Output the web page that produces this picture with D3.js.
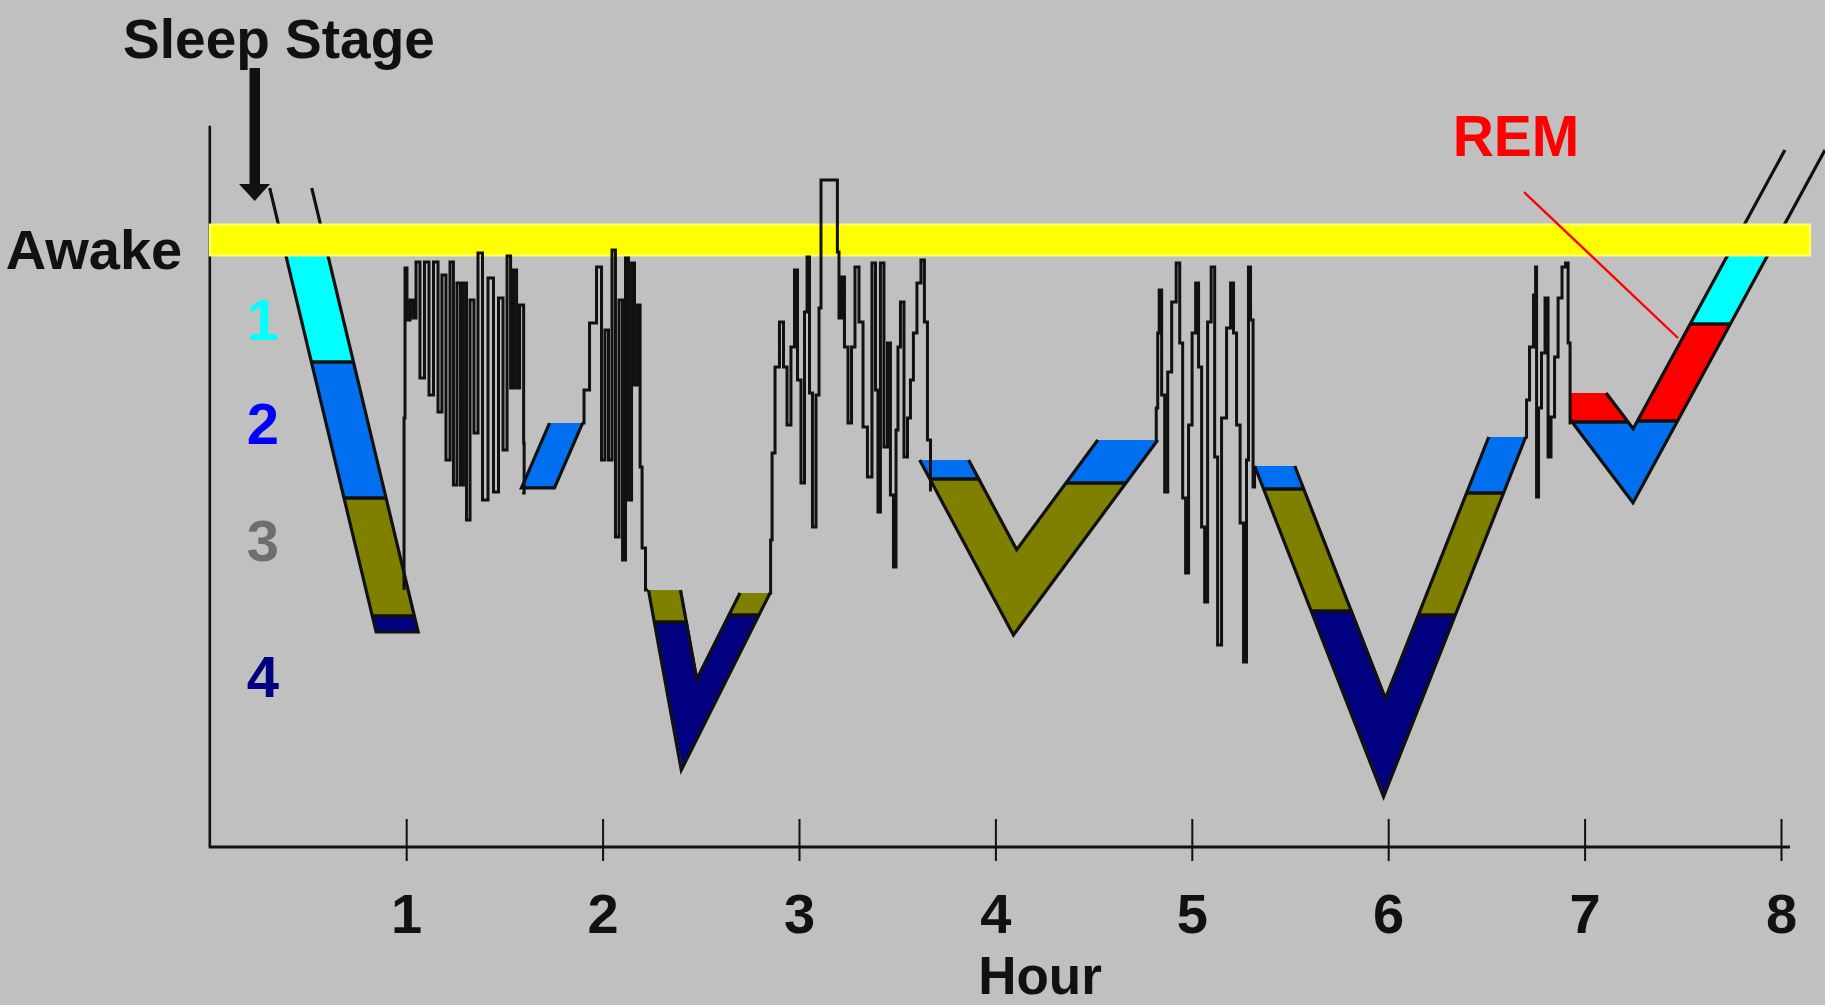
<!DOCTYPE html>
<html><head><meta charset="utf-8">
<script src="https://cdn.jsdelivr.net/npm/d3@7"></script>
<style>
html,body{margin:0;padding:0;background:#c0c0c0;}
svg{display:block;}
text{font-family:"Liberation Sans",Arial,Helvetica,sans-serif;font-weight:bold;}
</style></head><body>
<svg id="chart" width="1825" height="1005"></svg>
<script>
// ---------------- DATA ----------------
// x in hours after sleep onset, y in "sleep depth" units (0 = awake line)
const hourTicks = [1, 2, 3, 4, 5, 6, 7, 8];
const stageLabels = ['1', '2', '3', '4'];
const yTitle = 'Sleep Stage';
const xTitle = 'Hour';
const awakeLabel = 'Awake';
const remLabel = 'REM';

// single descending / ascending legs: centre line top & end, horizontal width (h), stage segments [stage, fromDepth, toDepth]
const legA = {top: [0.412, -0.514], end: [0.954, 3.875], w: 0.214,
  segs: [['S1', 0, 1.206], ['S2', 1.206, 2.550], ['S3', 2.550, 3.717], ['S4', 3.717, 3.875]]};
const legB = {top: [1.814, 1.809], end: [1.671, 2.451], w: 0.168,
  segs: [['S2', 1.809, 2.451]]};

// V-shaped cycles: left leg top, vertex, right leg top
const cycleC = {left: {top: [2.315, 3.460], w: 0.163, segs: [['S3', 3.460, 3.776], ['S4', 3.776, 9]]},
  vertex: [2.440, 4.790],
  right: {top: [2.776, 3.489], w: 0.153, segs: [['S3', 3.489, 3.707], ['S4', 3.707, 9]]}};
const cycleD = {left: {top: [3.739, 2.175], w: 0.249, segs: [['S2', 2.175, 2.362], ['S3', 2.362, 9]]},
  vertex: [4.100, 3.483],
  right: {top: [4.674, 1.977], w: 0.305, segs: [['S2', 1.977, 2.402], ['S3', 2.402, 9]]}};
const cycleE = {left: {top: [5.422, 2.234], w: 0.204, segs: [['S2', 2.234, 2.461], ['S3', 2.461, 3.667], ['S4', 3.667, 9]]},
  vertex: [5.981, 5.017],
  right: {top: [6.606, 1.947], w: 0.188, segs: [['S2', 1.947, 2.501], ['S3', 2.501, 3.707], ['S4', 3.707, 9]]}};
const cycleF = {left: {top: [6.967, 1.512], w: 0.285, segs: [['REM', 1.512, 1.799], ['S2', 1.799, 9]]},
  vertex: [7.247, 2.232], clipH: 6.930,
  right: {top: [8.122, -0.890], w: 0.204, segs: [['S1', 0, 0.830], ['REM', 0.830, 1.789], ['S2', 1.789, 9]]}};

// wake / arousal bursts [hour, depth]
const burst1 = [[0.989,3.460],[0.989,1.759],[0.999,0.277],[1.009,0.791],[1.030,0.593],[1.040,0.771],[1.060,0.217],[1.080,1.364],
  [1.106,0.217],[1.126,1.532],[1.152,0.217],[1.172,1.700],[1.192,0.346],[1.213,2.175],[1.233,0.217],[1.248,2.422],[1.269,0.425],
  [1.284,2.422],[1.299,0.425],[1.315,2.768],[1.335,0.593],[1.355,1.908],[1.376,0.128],[1.401,2.570],[1.432,0.376],[1.457,2.491],
  [1.483,0.573],[1.503,2.076],[1.524,0.158],[1.539,1.463],[1.554,0.297],[1.570,1.463],[1.585,0.642],[1.611,2.007],[1.590,2.501]];
const burst2 = [[1.895,1.809],[1.916,1.483],[1.951,0.820],[1.987,0.267],[2.002,2.175],[2.022,0.890],[2.038,2.175],[2.058,0.099],
  [2.073,2.936],[2.094,0.593],[2.109,3.163],[2.124,0.178],[2.140,2.570],[2.155,0.227],[2.170,1.433],[2.186,0.642],[2.196,2.244],
  [2.206,3.044],[2.231,3.460]];
const burst3 = [[2.853,3.489],[2.858,2.965],[2.868,2.105],[2.888,1.255],[2.913,0.811],[2.929,1.255],[2.949,1.829],[2.969,1.058],
  [2.985,0.297],[3.000,1.384],[3.020,2.402],[3.036,0.712],[3.046,0.168],[3.061,1.512],[3.076,2.837],[3.097,1.532],[3.107,0.672],
  [3.117,-0.593],[3.193,-0.593],[3.198,0.119],[3.209,0.771],[3.224,0.366],[3.239,1.058],[3.260,1.809],[3.275,1.058],[3.295,0.267],
  [3.316,0.811],[3.336,1.848],[3.361,2.343],[3.382,0.227],[3.397,1.483],[3.407,2.689],[3.422,0.227],[3.443,2.046],[3.458,1.018],
  [3.473,2.521],[3.489,3.232],[3.499,1.878],[3.509,1.058],[3.524,0.613],[3.545,2.145],[3.560,1.759],[3.575,1.384],[3.590,0.919],
  [3.611,0.425],[3.631,0.198],[3.646,0.811],[3.662,1.977],[3.677,2.471]];
const burst4 = [[4.814,1.977],[4.824,1.661],[4.829,0.919],[4.839,0.494],[4.854,1.532],[4.870,2.491],[4.885,1.305],[4.910,0.613],
  [4.931,0.227],[4.946,1.018],[4.961,2.550],[4.976,3.291],[4.991,1.829],[5.012,0.919],[5.027,0.425],[5.042,1.255],[5.058,2.837],
  [5.073,3.578],[5.088,0.811],[5.109,0.267],[5.124,2.145],[5.139,4.003],[5.164,1.759],[5.190,0.870],[5.205,0.425],[5.220,0.919],
  [5.236,1.829],[5.256,2.797],[5.271,4.171],[5.286,2.175],[5.291,0.267],[5.307,0.791],[5.317,2.441],[5.322,2.273]];
const burst5 = [[6.702,1.947],[6.707,1.581],[6.732,1.058],[6.748,0.544],[6.753,0.267],[6.758,2.540],[6.773,1.661],[6.788,1.117],
  [6.809,0.573],[6.819,2.145],[6.839,1.750],[6.855,1.156],[6.875,0.573],[6.895,0.267],[6.911,0.227],[6.921,1.018],[6.931,1.809]];

// ---------------- STYLE / LAYOUT ----------------
const COLORS = {S1: '#00ffff', S2: '#0070f0', S3: '#808000', S4: '#000080', REM: '#ff0000'};
const LABEL_COLORS = ['#00ffff', '#0000ff', '#6e6e6e', '#000080'];
const LABEL_Y = [340, 444, 561, 697];
const W = 1825, H = 1005;
const INK = '#111111';

const svg = d3.select('#chart');
svg.append('rect').attr('width', W).attr('height', H).attr('fill', '#c0c0c0');
const defs = svg.append('defs');

const x = d3.scaleLinear().domain([0, 8]).range([209.8, 1781]);
const y = d3.scaleLinear().domain([0, 6]).range([240, 847]);
const px = p => [x(p[0]), y(p[1])];
let clipN = 0;
function polyClip(points) {
  const id = 'clip' + (clipN++);
  defs.append('clipPath').attr('id', id).append('polygon')
    .attr('points', points.map(p => p.join(',')).join(' '));
  return id;
}
function rectClip(x0, y0, x1, y1) {
  const id = 'clip' + (clipN++);
  defs.append('clipPath').attr('id', id).append('rect')
    .attr('x', x0).attr('y', y0).attr('width', x1 - x0).attr('height', y1 - y0);
  return id;
}
function fillLeg(g, poly, segs) {
  const id = polyClip(poly);
  const cg = g.append('g').attr('clip-path', `url(#${id})`);
  segs.forEach(s => cg.append('rect').attr('x', 0).attr('width', W)
    .attr('y', y(s[1])).attr('height', y(s[2]) - y(s[1])).attr('fill', COLORS[s[0]]));
  segs.slice(1).forEach(s => cg.append('line').attr('x1', 0).attr('x2', W)
    .attr('y1', y(s[1])).attr('y2', y(s[1])).attr('stroke', INK).attr('stroke-width', 3.4));
}
const lineGen = d3.line();
const burstGen = d3.line().curve(d3.curveStep);

// axes
svg.append('line').attr('x1', x(0)).attr('x2', x(0)).attr('y1', y(-1.13)).attr('y2', y(6))
  .attr('stroke', INK).attr('stroke-width', 2.6);

const xAxis = d3.axisBottom(x).tickValues(hourTicks).tickSize(14).tickFormat(d3.format('d'));
const ax = svg.append('g').attr('transform', `translate(0,${y(6)})`).call(xAxis);
ax.select('.domain').remove();
ax.selectAll('.tick line').attr('y1', -28).attr('stroke', INK).attr('stroke-width', 2);
ax.selectAll('.tick text').attr('y', 86).attr('dy', 0).attr('fill', INK)
  .style('font-size', '56px').style('font-family', '"Liberation Sans",Arial,sans-serif').style('font-weight', 'bold');
svg.append('line').attr('x1', x(0) - 1).attr('x2', x(8.046)).attr('y1', y(6)).attr('y2', y(6))
  .attr('stroke', INK).attr('stroke-width', 3.2);

// single legs
function singleLeg(leg) {
  const [h0, d0] = leg.top, [h1, d1] = leg.end;
  const c = d => h0 + (d - d0) / (d1 - d0) * (h1 - h0);
  const hw = leg.w / 2;
  const poly = [[c(d0) - hw, d0], [c(d1) - hw, d1], [c(d1) + hw, d1], [c(d0) + hw, d0]].map(px);
  const g = svg.append('g');
  fillLeg(g, poly, leg.segs);
  g.append('path').attr('d', lineGen(poly)).attr('fill', 'none').attr('stroke', INK)
    .attr('stroke-width', 3.2).attr('stroke-linejoin', 'miter');
}
singleLeg(legA);
singleLeg(legB);

// V cycles
function vCycle(cyc) {
  const [hL, dL] = cyc.left.top, [hv, dv] = cyc.vertex, [hR, dR] = cyc.right.top;
  const sL = (hv - hL) / (dv - dL), sR = (hR - hv) / (dR - dv);
  const cL = d => hL + sL * (d - dL), cR = d => hv + sR * (d - dv);
  const wL = cyc.left.w, wR = cyc.right.w;
  const k = (wL + wR) / (2 * (sL - sR));
  const dTip = dv + k, dNotch = dv - k;
  const tip = px([cL(dTip) - wL / 2, dTip]), notch = px([cL(dNotch) + wL / 2, dNotch]);
  const LtL = px([cL(dL) - wL / 2, dL]), LtR = px([cL(dL) + wL / 2, dL]);
  const RtL = px([cR(dR) - wR / 2, dR]), RtR = px([cR(dR) + wR / 2, dR]);
  const g = svg.append('g');
  if (cyc.clipH !== undefined) g.attr('clip-path', `url(#${rectClip(x(cyc.clipH), 0, W, H)})`);
  fillLeg(g, [LtL, [tip[0] + 1.5, tip[1]], [notch[0] + 1.5, notch[1]], [LtR[0] + 1.5, LtR[1]]], cyc.left.segs);
  fillLeg(g, [RtL, notch, tip, RtR], cyc.right.segs);
  g.append('path').attr('d', lineGen([LtL, tip, RtR])).attr('fill', 'none').attr('stroke', INK)
    .attr('stroke-width', 3.2).attr('stroke-linejoin', 'miter');
  g.append('path').attr('d', lineGen([LtR, notch, RtL])).attr('fill', 'none').attr('stroke', INK)
    .attr('stroke-width', 3.2).attr('stroke-linejoin', 'miter');
}
[cycleC, cycleD, cycleE, cycleF].forEach(vCycle);

// awake band
svg.append('rect').attr('x', x(0)).attr('width', x(8.148) - x(0))
  .attr('y', y(-0.153)).attr('height', y(0.153) - y(-0.153))
  .attr('fill', '#ffff00').attr('stroke', '#ffff70').attr('stroke-width', 2);

// bursts
[burst1, burst2, burst3, burst4, burst5].forEach(b => {
  svg.append('path').attr('d', burstGen(b.map(px))).attr('fill', 'none')
    .attr('stroke', INK).attr('stroke-width', 3).attr('stroke-linejoin', 'miter');
});

// labels
svg.append('text').attr('x', 279).attr('y', 58).attr('text-anchor', 'middle')
  .style('font-size', '55px').attr('fill', INK).text(yTitle);
svg.append('rect').attr('x', 249.5).attr('y', 68).attr('width', 10.5).attr('height', 118).attr('fill', INK);
svg.append('path').attr('d', 'M239,184 L270,184 L254.7,201 Z').attr('fill', INK);
svg.append('text').attr('x', 94).attr('y', 269).attr('text-anchor', 'middle')
  .style('font-size', '56px').attr('fill', INK).text(awakeLabel);
stageLabels.forEach((s, i) => {
  svg.append('text').attr('x', 263).attr('y', LABEL_Y[i]).attr('text-anchor', 'middle')
    .style('font-size', '58px').attr('fill', LABEL_COLORS[i]).text(s);
});
svg.append('text').attr('x', 1516).attr('y', 156).attr('text-anchor', 'middle')
  .style('font-size', '57px').attr('fill', '#ff0000').text(remLabel);
svg.append('line').attr('x1', 1524).attr('y1', 192).attr('x2', 1678).attr('y2', 338)
  .attr('stroke', '#ff0000').attr('stroke-width', 2.4);
svg.append('text').attr('x', 1040).attr('y', 993.5).attr('text-anchor', 'middle')
  .style('font-size', '53px').attr('fill', INK).text(xTitle);
</script>
</body></html>
